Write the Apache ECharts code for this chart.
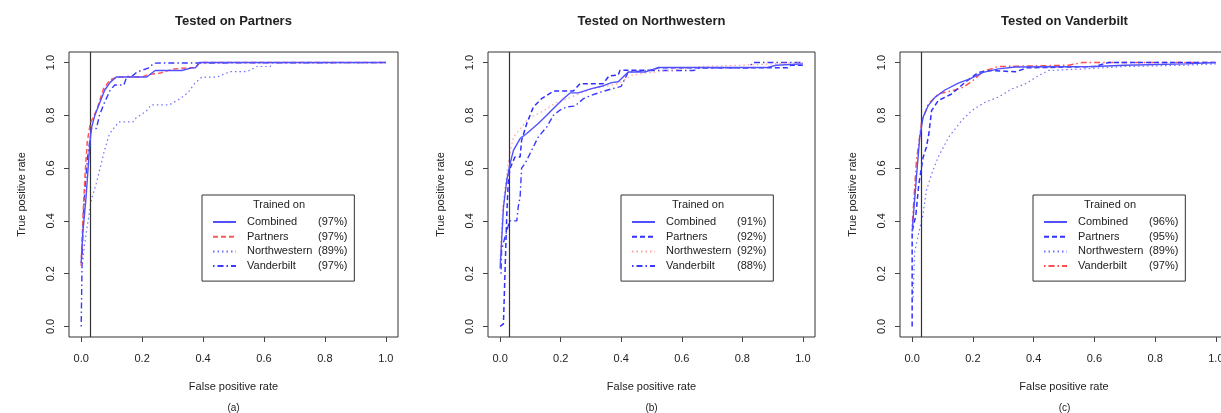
<!DOCTYPE html>
<html>
<head>
<meta charset="utf-8">
<title>ROC curves by test site</title>
<script src="https://cdn.jsdelivr.net/npm/echarts@6/dist/echarts.min.js"></script>
<style>
  html, body { margin: 0; padding: 0; background: #fff; }
  #chart { width: 1221px; height: 413px; }
</style>
</head>
<body>
<div id="chart"></div>
<script>
const panelTitles = ['Tested on Partners', 'Tested on Northwestern', 'Tested on Vanderbilt']
const panelTags = ['(a)', '(b)', '(c)']
const trainedOn = ['Combined', 'Partners', 'Northwestern', 'Vanderbilt']
const aucLabels = [
  ['97%', '97%', '89%', '97%'],
  ['91%', '92%', '92%', '88%'],
  ['96%', '95%', '89%', '97%']
]
const cutoffFpr = [0.032, 0.031, 0.03]
const axisTicks = [0, 0.2, 0.4, 0.6, 0.8, 1.0]

// points are [false positive rate, true positive rate]
// (a) tested on Partners
const p1Combined = [[0, 0.24], [0.005, 0.35], [0.016, 0.49], [0.027, 0.67], [0.033, 0.75], [0.045, 0.8], [0.06, 0.845], [0.077, 0.895], [0.095, 0.925], [0.115, 0.945], [0.215, 0.945], [0.243, 0.97], [0.33, 0.97], [0.363, 0.98], [0.375, 0.98], [0.387, 1.0], [1, 1.0]]
const p1Partners = [[0, 0.23], [0.006, 0.42], [0.013, 0.58], [0.02, 0.7], [0.03, 0.77], [0.051, 0.82], [0.073, 0.9], [0.095, 0.935], [0.12, 0.945], [0.2, 0.945], [0.22, 0.955], [0.26, 0.96], [0.3, 0.975], [0.347, 0.98], [0.375, 0.98], [0.39, 1.0], [1, 1.0]]
const p1Northwestern = [[0.003, 0.22], [0.01, 0.3], [0.02, 0.38], [0.033, 0.48], [0.049, 0.54], [0.06, 0.59], [0.077, 0.67], [0.093, 0.73], [0.123, 0.775], [0.17, 0.775], [0.18, 0.79], [0.213, 0.815], [0.23, 0.84], [0.29, 0.84], [0.32, 0.86], [0.35, 0.885], [0.372, 0.92], [0.396, 0.945], [0.445, 0.945], [0.49, 0.966], [0.545, 0.966], [0.577, 0.985], [0.62, 0.985], [0.63, 1.0], [1, 1.0]]
const p1Vanderbilt = [[0, 0], [0.003, 0.25], [0.007, 0.42], [0.014, 0.55], [0.022, 0.65], [0.03, 0.72], [0.033, 0.75], [0.05, 0.75], [0.06, 0.8], [0.077, 0.85], [0.095, 0.895], [0.11, 0.915], [0.14, 0.915], [0.15, 0.947], [0.166, 0.947], [0.183, 0.964], [0.22, 0.979], [0.24, 0.998], [1, 1.0]]

// (b) tested on Northwestern
const p2Combined = [[0, 0.22], [0.011, 0.45], [0.022, 0.554], [0.033, 0.617], [0.044, 0.667], [0.066, 0.712], [0.088, 0.731], [0.126, 0.769], [0.154, 0.8], [0.181, 0.832], [0.209, 0.863], [0.231, 0.885], [0.258, 0.885], [0.302, 0.901], [0.335, 0.91], [0.368, 0.924], [0.39, 0.927], [0.423, 0.964], [0.478, 0.964], [0.522, 0.981], [0.879, 0.981], [0.912, 0.99], [1, 0.995]]
const p2Partners = [[0, 0], [0.011, 0.01], [0.016, 0.2], [0.022, 0.42], [0.027, 0.55], [0.033, 0.6], [0.049, 0.642], [0.066, 0.642], [0.071, 0.705], [0.088, 0.769], [0.11, 0.832], [0.137, 0.863], [0.176, 0.892], [0.242, 0.892], [0.264, 0.92], [0.34, 0.92], [0.36, 0.95], [0.39, 0.952], [0.396, 0.971], [0.505, 0.971], [0.52, 0.98], [0.95, 0.98], [0.96, 0.99], [1, 0.99]]
const p2Northwestern = [[0, 0.25], [0.008, 0.45], [0.02, 0.56], [0.03, 0.64], [0.044, 0.718], [0.071, 0.756], [0.093, 0.788], [0.137, 0.813], [0.181, 0.845], [0.236, 0.87], [0.302, 0.9], [0.39, 0.92], [0.434, 0.952], [0.48, 0.96], [0.56, 0.97], [0.66, 0.985], [0.8, 0.99], [1, 1.0]]
const p2Vanderbilt = [[0.003, 0.2], [0.005, 0.29], [0.016, 0.339], [0.022, 0.36], [0.031, 0.4], [0.055, 0.4], [0.06, 0.454], [0.066, 0.49], [0.071, 0.6], [0.082, 0.617], [0.104, 0.667], [0.126, 0.718], [0.154, 0.756], [0.176, 0.8], [0.198, 0.82], [0.22, 0.832], [0.247, 0.835], [0.275, 0.863], [0.302, 0.876], [0.335, 0.889], [0.368, 0.9], [0.4, 0.91], [0.423, 0.964], [0.5, 0.97], [0.64, 0.97], [0.66, 0.98], [0.82, 0.98], [0.835, 1.0], [1, 1.0]]

// (c) tested on Vanderbilt
const p3Combined = [[0, 0.36], [0.014, 0.565], [0.025, 0.717], [0.036, 0.793], [0.053, 0.837], [0.075, 0.868], [0.108, 0.896], [0.152, 0.922], [0.19, 0.938], [0.234, 0.963], [0.284, 0.976], [0.339, 0.983], [0.6, 0.985], [0.7, 0.99], [0.9, 0.995], [1, 1.0]]
const p3Partners = [[0, 0], [0, 0.36], [0.012, 0.42], [0.022, 0.54], [0.029, 0.59], [0.036, 0.64], [0.047, 0.68], [0.055, 0.73], [0.064, 0.818], [0.086, 0.856], [0.13, 0.881], [0.174, 0.925], [0.218, 0.963], [0.262, 0.97], [0.34, 0.965], [0.38, 0.98], [0.6, 0.985], [0.647, 1.0], [1, 1.0]]
const p3Northwestern = [[0.003, 0.11], [0.008, 0.28], [0.02, 0.345], [0.036, 0.426], [0.047, 0.515], [0.064, 0.578], [0.086, 0.642], [0.12, 0.717], [0.163, 0.78], [0.196, 0.818], [0.24, 0.85], [0.284, 0.869], [0.328, 0.9], [0.372, 0.919], [0.416, 0.95], [0.449, 0.97], [0.55, 0.975], [0.7, 0.985], [0.9, 0.99], [1, 0.995]]
const p3Vanderbilt = [[0, 0.38], [0.014, 0.628], [0.031, 0.774], [0.053, 0.843], [0.086, 0.881], [0.135, 0.894], [0.168, 0.906], [0.2, 0.932], [0.234, 0.967], [0.284, 0.985], [0.515, 0.99], [0.56, 1.0], [1, 1.0]]

const panelData = [
  [p1Combined, p1Partners, p1Northwestern, p1Vanderbilt],
  [p2Combined, p2Partners, p2Northwestern, p2Vanderbilt],
  [p3Combined, p3Partners, p3Northwestern, p3Vanderbilt]
]

// layout (pixels)
const gridLeft = [69, 488, 900]
const gridWidth = [329, 327, 328]
const gridTop = 52
const gridHeight = 285
const legendLeft = [202, 621, 1033]
const legendTop = 195
const tickLen = 5
const font = '"Liberation Sans", Arial, sans-serif'

// line look per "trained on" site; the curve for the tested site is red
const dashTypes = ['solid', [5, 3], [1.5, 3], [1.5, 3, 6, 3]]
const lineWidths = [1.4, 1.5, 1.2, 1.4]
const blues = ['#5050ff', '#3030ff', '#7070ff', '#3a3aff']
const reds = ['#ff4a4a', '#ff5656', '#ffa0a0', '#ff4e4e']

const chartDom = document.getElementById('chart')
const chart = echarts.init(chartDom)

// ticks point outward: the axis is pushed out by tickLen and its ticks drawn back towards the box
const tickStyle = { show: true, inside: true, length: tickLen, customValues: axisTicks, lineStyle: { color: '#444', width: 1 } }

const buildOption = () => {
  const grids = []
  const xAxes = []
  const yAxes = []
  const series = []
  const legends = []
  const titles = []
  const legendText = {}

  panelData.forEach((curves, p) => {
    grids.push({
      left: gridLeft[p], width: gridWidth[p], top: gridTop, height: gridHeight,
      outerBoundsMode: 'none', containLabel: false,
      show: true, borderColor: '#333', borderWidth: 1, backgroundColor: 'transparent'
    })
    xAxes.push({
      type: 'value', gridIndex: p, min: -0.04, max: 1.04, offset: tickLen,
      name: 'False positive rate', nameLocation: 'middle', nameGap: 44 - tickLen,
      nameTextStyle: { fontSize: 11, color: '#222', fontFamily: font },
      axisLine: { show: false, onZero: false },
      splitLine: { show: false },
      axisTick: tickStyle,
      axisLabel: {
        customValues: axisTicks, margin: 16 - tickLen, fontSize: 11, color: '#222', fontFamily: font,
        formatter: v => v.toFixed(1)
      }
    })
    yAxes.push({
      type: 'value', gridIndex: p, min: -0.04, max: 1.04, offset: tickLen,
      name: 'True positive rate', nameLocation: 'middle', nameGap: 42 - tickLen,
      nameTextStyle: { fontSize: 11, color: '#222', fontFamily: font },
      axisLine: { show: false, onZero: false },
      splitLine: { show: false },
      axisTick: tickStyle,
      axisLabel: {
        customValues: axisTicks, rotate: 90, margin: 13 - tickLen, fontSize: 11, color: '#222', fontFamily: font,
        formatter: v => v.toFixed(1)
      }
    })

    const names = []
    curves.forEach((pts, k) => {
      const name = trainedOn[k] + '#' + p
      names.push(name)
      legendText[name] = `{n|${trainedOn[k]}}{p|(${aucLabels[p][k]})}`
      const isHome = k === p + 1
      const color = isHome ? reds[k] : blues[k]
      const s = {
        name, type: 'line', xAxisIndex: p, yAxisIndex: p,
        data: pts, symbol: 'none', smooth: false,
        lineStyle: { color, width: lineWidths[k], type: dashTypes[k] },
        itemStyle: { color },
        z: 3 + (3 - k)
      }
      if (k === 0) {
        s.markLine = {
          silent: true, symbol: 'none', label: { show: false },
          lineStyle: { color: '#333', type: 'solid', width: 1.2 },
          data: [{ xAxis: cutoffFpr[p] }]
        }
      }
      series.push(s)
    })

    legends.push({
      data: names, orient: 'vertical',
      left: legendLeft[p], top: legendTop,
      padding: [21, 7, 9, 10],
      itemWidth: 23, itemHeight: 12, itemGap: 2.7,
      borderColor: '#333', borderWidth: 1, backgroundColor: '#fff',
      selectedMode: false,
      itemStyle: { opacity: 0 },
      lineStyle: { opacity: 1 },
      formatter: name => legendText[name],
      textStyle: {
        fontSize: 11, color: '#222', fontFamily: font, lineHeight: 12,
        rich: {
          n: { width: 71, padding: [0, 0, 0, 6], fontSize: 11, fontFamily: font, color: '#222' },
          p: { fontSize: 11, fontFamily: font, color: '#222' }
        }
      }
    })

    const cx = [233.5, 651.5, 1064.5][p]
    titles.push({
      text: panelTitles[p], left: cx, top: 15, textAlign: 'center', padding: 0,
      textStyle: { fontSize: 13, fontWeight: 'bold', color: '#222', fontFamily: font }
    })
    titles.push({
      text: 'Trained on', left: legendLeft[p] + 77, top: 199, textAlign: 'center', padding: 0,
      textStyle: { fontSize: 11, fontWeight: 'normal', color: '#222', fontFamily: font }
    })
    titles.push({
      text: panelTags[p], left: cx, top: 403, textAlign: 'center', padding: 0,
      textStyle: { fontSize: 10, fontWeight: 'normal', color: '#222', fontFamily: font }
    })
  })

  return {
    backgroundColor: '#fff',
    animation: false,
    title: titles,
    legend: legends,
    grid: grids,
    xAxis: xAxes,
    yAxis: yAxes,
    series
  }
}

chart.setOption(buildOption())
window.addEventListener('resize', () => chart.resize())
</script>
</body>
</html>
